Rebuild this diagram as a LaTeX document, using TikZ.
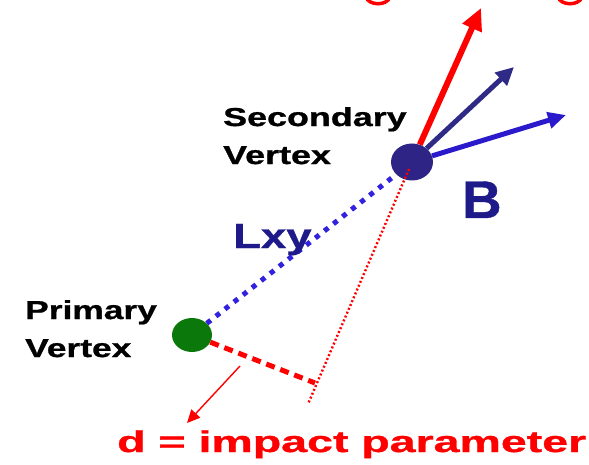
\documentclass[tikz,border=0pt]{standalone}
\usepackage{fontspec}
\setmainfont{Liberation Sans}[BoldFeatures={FakeBold=0.8}]
\usetikzlibrary{shapes.geometric,arrows.meta}
\definecolor{navyv}{RGB}{46,36,133}
\definecolor{navyarrow}{RGB}{46,42,133}
\definecolor{bluearrow}{RGB}{42,26,204}
\definecolor{bluedot}{RGB}{51,34,221}
\definecolor{lxycol}{RGB}{31,26,138}
\definecolor{greenv}{RGB}{10,120,10}
\definecolor{redc}{RGB}{255,0,0}
\tikzset{
  vertexdot/.style={ellipse,inner sep=0pt},
  label/.style={inner sep=0pt,align=left,text=black,font=\fontsize{26}{38}\selectfont\bfseries},
  track/.style={line width=#1,-{Triangle[length=20pt,width=18pt]}},
  lxyline/.style={bluedot,line width=5pt,dash pattern=on 5pt off 6.5pt},
  dline/.style={redc,line width=5pt,dash pattern=on 9pt off 6pt},
  projline/.style={redc,line width=2.4pt,dash pattern=on 2pt off 2.2pt},
  thinarrow/.style={redc,line width=1.4pt,-{Triangle[length=13pt,width=12pt]}},
}
\begin{document}
\begin{tikzpicture}[x=1pt,y=-1pt]
\useasboundingbox (0,0) rectangle (589,465);
% partial red letters cut off at the top
\draw[redc,line width=3.5pt] (366,-3) .. controls (369,6) and (387,6) .. (390,-3);
\draw[redc,line width=3.5pt] (558,-3) .. controls (561,6) and (579,6) .. (582,-3);
% vertices
\node[vertexdot,fill=navyv,minimum width=42pt,minimum height=37pt] (sv) at (412,162) {};
\node[vertexdot,fill=greenv,minimum width=40pt,minimum height=34pt] (pv) at (192,335) {};
\coordinate (foot) at (315,383);
\coordinate (projend) at (308,404);
\coordinate (redtip) at (481,8);
\coordinate (navytip) at (514,67);
\coordinate (bluetip) at (566,115);
\coordinate (astart) at (240,366);
\coordinate (aend) at (187,423);
% lines
\draw[lxyline] (pv) -- (sv);
\draw[dline] (pv) -- (foot);
\draw[projline] (sv.center) ++(-3,7) -- (projend);
\draw[thinarrow] (astart) -- (aend);
% tracks
\draw[track=6pt,redc,-{Triangle[length=22pt,width=20pt]}] (sv) -- (redtip);
\draw[track=5pt,navyarrow,-{Triangle[length=18pt,width=17pt]}] (sv) -- (navytip);
\draw[track=5pt,bluearrow,-{Triangle[length=18pt,width=16pt]}] (sv) -- (bluetip);
% labels
\node[label,anchor=north west] (svlab) at (223,107) {\scalebox{1.38}[1]{Secondary}\\\scalebox{1.38}[1]{Vertex}};
\node[label,anchor=north west] (pvlab) at (25,300) {\scalebox{1.36}[1]{Primary}\\\scalebox{1.36}[1]{Vertex}};
\node[inner sep=0pt,anchor=base west,text=lxycol,font=\fontsize{35}{40}\selectfont\bfseries] (lxy) at (233,248) {\scalebox{1.3}[1]{Lxy}};
\node[inner sep=0pt,anchor=base west,text=lxycol,font=\fontsize{53}{60}\selectfont\bfseries] (blab) at (462,218) {\scalebox{1.03}[1]{B}};
\node[inner sep=0pt,anchor=base west,text=redc,font=\fontsize{30}{36}\selectfont\bfseries] (dlab) at (117,452) {\scalebox{1.55}[1]{d = impact parameter}};
\end{tikzpicture}
\end{document}
